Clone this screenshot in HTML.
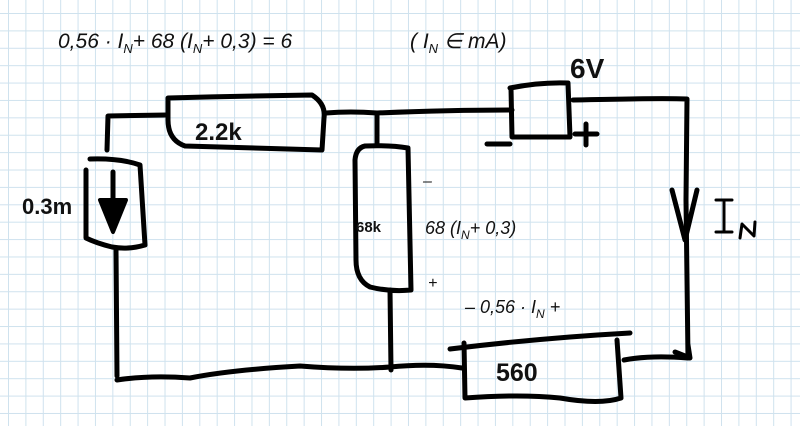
<!DOCTYPE html>
<html><head><style>
html,body{margin:0;padding:0;}
body{width:800px;height:426px;overflow:hidden;background:#fff;
background-image:linear-gradient(to right,#cfe2ee 1px,transparent 1px),linear-gradient(to bottom,#cfe2ee 1px,transparent 1px);
background-size:17.4px 17.4px;background-position:8px 13px;}
svg{position:absolute;left:0;top:0}
text{font-family:"Liberation Sans",sans-serif;fill:#111}
</style></head><body>
<svg width="800" height="426" viewBox="0 0 800 426">
<g fill="none" stroke="#000" stroke-width="5" stroke-linecap="round" stroke-linejoin="round">
<path d="M107 150 L108 116 L167 115"/>
<path d="M168 98 Q240 96 312 95 Q326 104 324 118 L322 150 Q245 148 185 146 Q168 140 168 120 Z"/>
<path d="M326 113 Q350 111 377 113 Q450 110 512 110"/>
<path d="M377 113 L377 145"/>
<path d="M365 146 Q390 145 408 148 L411 290 Q390 292 370 287 Q356 280 356 260 L355 160 Q356 148 365 146"/>
<path d="M390 290 L391 370"/>
<path d="M90 159 Q120 158 140 165 L145 245 Q128 250 112 247 Q96 243 86 238 L86 170"/>
<path d="M113 172 L113 200"/>
<path d="M116 250 L117 376"/>
<path d="M117 380 Q150 375 190 378 Q230 370 300 366 Q350 370 390 367 Q430 363 462 368"/>
<path d="M450 349 Q540 338 630 333"/>
<path d="M464 343 L465 398 Q520 394 560 398 Q600 405 621 398 L617 340"/>
<path d="M624 360 Q650 355 688 358 L686 200 L687 99 Q660 98 573 100"/>
<path d="M672 190 L685 240 L697 190"/>
<path d="M675 352 L690 358 L688 345"/>
<path d="M510 88 Q540 82 568 83 L570 137 L512 137 L511 88"/>
<path d="M487 144 L510 144"/><path d="M575 134 L597 134 M586 124 L586 145"/>
<path d="M724 200 L724 232 M716 200 L732 200 M716 232 L732 232" stroke-width="3"/>
<path d="M740 238 L742 224 L754 236 L755 222" stroke-width="3"/>
</g>
<path d="M100 200 L126 200 L113 232 Z" fill="#000" stroke="#000" stroke-width="4" stroke-linejoin="round"/>
<text x="195" y="140" font-size="24" font-weight="bold">2.2k</text>
<text x="356" y="232" font-size="15" font-weight="bold">68k</text>
<text x="22" y="214" font-size="22" font-weight="bold">0.3m</text>
<text x="496" y="381" font-size="25" font-weight="bold">560</text>
<text x="570" y="78" font-size="28" font-weight="bold">6V</text>
<g font-style="italic" font-size="21">
<text x="58" y="48">0,56 · I<tspan font-size="13" dy="5">N</tspan><tspan dy="-5">+ 68 (I</tspan><tspan font-size="13" dy="5">N</tspan><tspan dy="-5">+ 0,3) = 6</tspan></text>
<text x="410" y="48">( I<tspan font-size="13" dy="5">N</tspan><tspan dy="-5"> ∈ mA)</tspan></text>
<text x="425" y="234" font-size="18">68 (I<tspan font-size="12" dy="5">N</tspan><tspan dy="-5">+ 0,3)</tspan></text>
<text x="423" y="186" font-size="16">–</text>
<text x="428" y="288" font-size="16">+</text>
<text x="465" y="313" font-size="18">– 0,56 · I<tspan font-size="12" dy="5">N</tspan><tspan dy="-5"> +</tspan></text>
</g>
</svg>
</body></html>
